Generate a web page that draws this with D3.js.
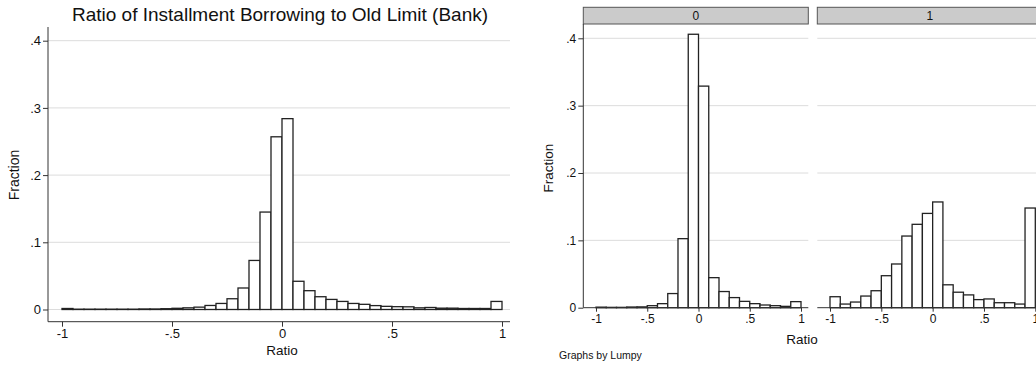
<!DOCTYPE html>
<html>
<head>
<meta charset="utf-8">
<script src="https://cdn.jsdelivr.net/npm/d3@7"></script>
<style>
  body { margin: 0; background: #fff; }
  svg { display: block; font-family: "Liberation Sans", Arial, sans-serif; }
  .grid line { stroke: #dcdcdc; stroke-width: 1; }
  .axis text { fill: #111; }
  .axis line, .axis path { stroke: #333; }
  .bar { fill: #fff; stroke: #222; stroke-width: 1.3; }
</style>
</head>
<body>
<div class="graph"></div>
<script>
// left histogram: fraction per bin, bins of width 0.05 starting at -1
const leftBinStart = -1, leftBinWidth = 0.05;
const leftFraction = [
  0.0015, 0.0005, 0.0005, 0.0005, 0.0005, 0.0005, 0.0005, 0.0008, 0.0008, 0.0012,
  0.0018, 0.0025, 0.0035, 0.006, 0.009, 0.016, 0.032, 0.073, 0.145, 0.257,
  0.284, 0.042, 0.028, 0.019, 0.015, 0.012, 0.009, 0.0077, 0.0058, 0.0047,
  0.0042, 0.004, 0.0025, 0.003, 0.002, 0.002, 0.0015, 0.0015, 0.0015, 0.012
];

// by-graph (Lumpy = 0 / 1): bins of width 0.1 starting at -1
const byBinStart = -1, byBinWidth = 0.1;
const lumpyGroups = ["0", "1"];
const lumpy0Fraction = [
  0.0008, 0.0005, 0.0005, 0.001, 0.0012, 0.003, 0.006, 0.021, 0.1025, 0.406,
  0.329, 0.0446, 0.024, 0.015, 0.0094, 0.006, 0.004, 0.003, 0.002, 0.009
];
const lumpy1Fraction = [
  0.0163, 0.0054, 0.0084, 0.0173, 0.0252, 0.0475, 0.0649, 0.1064, 0.1238, 0.140,
  0.157, 0.034, 0.023, 0.019, 0.012, 0.013, 0.0074, 0.0074, 0.0054, 0.148
];

const yTicks = [0, 0.1, 0.2, 0.3, 0.4];
const xTicks = [-1, -0.5, 0, 0.5, 1];
const titleText = "Ratio of Installment Borrowing to Old Limit (Bank)";

function stataFmt(d) {
  if (d === 0) return "0";
  if (Math.abs(d) === 1) return d < 0 ? "-1" : "1";
  return d3.format(".1f")(d).replace("0.", ".").replace("−", "-");
}

const W = 1036, H = 365;
const svg = d3.select(".graph").append("svg")
  .attr("width", W).attr("height", H);

function bins(start, width, values) {
  return values.map((v, i) => ({ x0: start + i * width, x1: start + (i + 1) * width, v: v }));
}

// ---------- left chart ----------
(function () {
  const left = 48, right = 510, top = 27, bottom = 321.7;
  const x = d3.scaleLinear().domain([-1, 1]).range([62, 502]);
  const y = d3.scaleLinear().domain([0, 0.4]).range([309.5, 40.7]);
  const g = svg.append("g");

  svg.append("text")
    .attr("x", 280).attr("y", 21)
    .attr("text-anchor", "middle")
    .style("font-size", "19px").style("fill", "#111")
    .text(titleText);

  g.append("g").attr("class", "grid")
    .selectAll("line").data(yTicks).enter().append("line")
    .attr("x1", left).attr("x2", right)
    .attr("y1", d => y(d)).attr("y2", d => y(d));

  g.selectAll(".bar").data(bins(leftBinStart, leftBinWidth, leftFraction))
    .enter().append("rect")
    .attr("class", "bar")
    .attr("x", d => x(d.x0))
    .attr("width", d => x(d.x1) - x(d.x0))
    .attr("y", d => y(d.v))
    .attr("height", d => y(0) - y(d.v));

  const ya = g.append("g").attr("class", "axis")
    .attr("transform", "translate(" + left + ",0)")
    .call(d3.axisLeft(y).tickValues(yTicks).tickFormat(stataFmt).tickSize(5).tickPadding(2));
  ya.select(".domain").remove();
  ya.selectAll("text").style("font-size", "13px");
  g.append("line").attr("x1", left).attr("x2", left).attr("y1", top).attr("y2", bottom)
    .attr("stroke", "#333");

  const xa = g.append("g").attr("class", "axis")
    .attr("transform", "translate(0," + bottom + ")")
    .call(d3.axisBottom(x).tickValues(xTicks).tickFormat(stataFmt).tickSize(5).tickPadding(2));
  xa.select(".domain").remove();
  xa.selectAll("text").style("font-size", "13px");
  g.append("line").attr("x1", left).attr("x2", right).attr("y1", bottom).attr("y2", bottom)
    .attr("stroke", "#333");

  svg.append("text")
    .attr("x", x(0)).attr("y", 355)
    .attr("text-anchor", "middle")
    .style("font-size", "13.5px").style("fill", "#111")
    .text("Ratio");

  svg.append("text")
    .attr("transform", "translate(19,175) rotate(-90)")
    .attr("text-anchor", "middle")
    .style("font-size", "14px").style("fill", "#111")
    .text("Fraction");
})();

// ---------- right by-graph ----------
(function () {
  const y = d3.scaleLinear().domain([0, 0.4]).range([307.7, 38.3]);
  const top = 24, headTop = 7.3;
  const panels = [
    { label: lumpyGroups[0], values: lumpy0Fraction, left: 583.3, right: 808.3, x0: 596, x1: 801 },
    { label: lumpyGroups[1], values: lumpy1Fraction, left: 817.3, right: 1042.3, x0: 830, x1: 1035.3 }
  ];

  panels.forEach((p, pi) => {
    const x = d3.scaleLinear().domain([-1, 1]).range([p.x0, p.x1]);
    const g = svg.append("g");

    g.append("rect")
      .attr("x", p.left).attr("y", headTop)
      .attr("width", p.right - p.left).attr("height", top - headTop)
      .attr("fill", "#cbcbcb").attr("stroke", "#555").attr("stroke-width", 1);
    g.append("text")
      .attr("x", (p.left + p.right) / 2).attr("y", 20)
      .attr("text-anchor", "middle")
      .style("font-size", "12px").style("fill", "#111")
      .text(p.label);

    g.append("g").attr("class", "grid")
      .selectAll("line").data(yTicks.slice(1)).enter().append("line")
      .attr("x1", p.left).attr("x2", p.right)
      .attr("y1", d => y(d)).attr("y2", d => y(d));

    g.selectAll(".bar").data(bins(byBinStart, byBinWidth, p.values))
      .enter().append("rect")
      .attr("class", "bar")
      .attr("x", d => x(d.x0))
      .attr("width", d => x(d.x1) - x(d.x0))
      .attr("y", d => y(d.v))
      .attr("height", d => y(0) - y(d.v));

    const xa = g.append("g").attr("class", "axis")
      .attr("transform", "translate(0," + y(0) + ")")
      .call(d3.axisBottom(x).tickValues(xTicks).tickFormat(stataFmt).tickSize(4).tickPadding(3));
    xa.select(".domain").remove();
    xa.selectAll("text").style("font-size", "12px");
    g.append("line").attr("x1", p.left).attr("x2", p.right)
      .attr("y1", y(0)).attr("y2", y(0)).attr("stroke", "#333");

    if (pi === 0) {
      const ya = g.append("g").attr("class", "axis")
        .attr("transform", "translate(" + p.left + ",0)")
        .call(d3.axisLeft(y).tickValues(yTicks).tickFormat(stataFmt).tickSize(5).tickPadding(2));
      ya.select(".domain").remove();
      ya.selectAll("text").style("font-size", "12px");
      g.append("line").attr("x1", p.left).attr("x2", p.left)
        .attr("y1", top).attr("y2", y(0)).attr("stroke", "#333");
    }
  });

  svg.append("text")
    .attr("x", 802).attr("y", 344)
    .attr("text-anchor", "middle")
    .style("font-size", "13.5px").style("fill", "#111")
    .text("Ratio");

  svg.append("text")
    .attr("transform", "translate(553,168) rotate(-90)")
    .attr("text-anchor", "middle")
    .style("font-size", "13.5px").style("fill", "#111")
    .text("Fraction");

  svg.append("text")
    .attr("x", 559).attr("y", 359)
    .style("font-size", "10.5px").style("fill", "#111")
    .text("Graphs by Lumpy");
})();
</script>
</body>
</html>
